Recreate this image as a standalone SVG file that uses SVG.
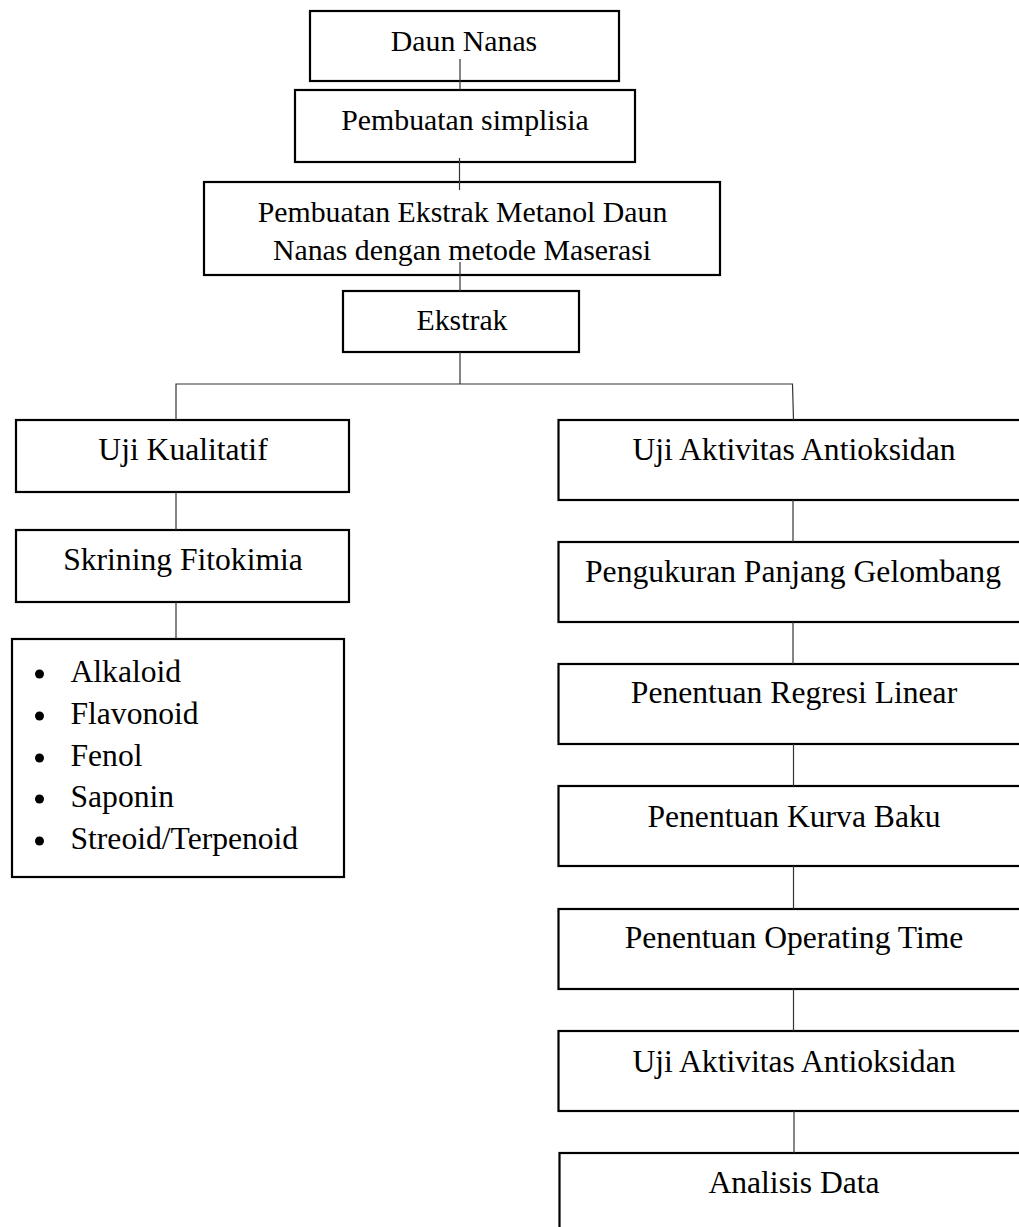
<svg xmlns="http://www.w3.org/2000/svg" width="1019" height="1227" viewBox="0 0 1019 1227">
<style>
.box{fill:#fff;stroke:#000;stroke-width:2.2}
.t{font-family:"Liberation Serif","Times New Roman",serif;font-size:29.8px;fill:#000;text-anchor:middle}
.b{font-size:31.6px}
.l{font-family:"Liberation Serif","Times New Roman",serif;font-size:31.6px;fill:#000}
.c{fill:none;stroke:#333;stroke-width:1.2}
</style>
<rect width="1019" height="1227" fill="#fff"/>
<g id="n1"><rect class="box" x="310" y="11" width="309" height="70"/><text class="t" x="464" y="51">Daun Nanas</text></g>
<g id="n2"><rect class="box" x="295" y="90" width="340" height="72"/><text class="t" x="465" y="130">Pembuatan simplisia</text></g>
<g id="n3"><rect class="box" x="204" y="182" width="516" height="93"/><text class="t" x="462.5" y="222">Pembuatan Ekstrak Metanol Daun</text><text class="t" x="462" y="260">Nanas dengan metode Maserasi</text></g>
<g id="n4"><rect class="box" x="343" y="291" width="236" height="61"/><text class="t" x="462" y="330">Ekstrak</text></g>
<g id="n5"><rect class="box" x="16" y="420" width="333" height="72"/><text class="t b" x="183" y="460">Uji Kualitatif</text></g>
<g id="n6"><rect class="box" x="16" y="530" width="333" height="72"/><text class="t b" x="183" y="570">Skrining Fitokimia</text></g>
<g id="n7"><rect class="box" x="12" y="639" width="332" height="238"/>
<g><circle cx="39.5" cy="674" r="4.5"/><text class="l" x="70.5" y="682">Alkaloid</text>
<circle cx="39.5" cy="716" r="4.5"/><text class="l" x="70.5" y="724">Flavonoid</text>
<circle cx="39.5" cy="758" r="4.5"/><text class="l" x="70.5" y="766">Fenol</text>
<circle cx="39.5" cy="799" r="4.5"/><text class="l" x="70.5" y="807">Saponin</text>
<circle cx="39.5" cy="841" r="4.5"/><text class="l" x="70.5" y="849">Streoid/Terpenoid</text></g></g>
<g id="n8"><rect class="box" x="558.5" y="420" width="470" height="80"/><text class="t b" x="794" y="460">Uji Aktivitas Antioksidan</text></g>
<g id="n9"><rect class="box" x="558.5" y="542" width="470" height="80"/><text class="t b" x="793" y="582">Pengukuran Panjang Gelombang</text></g>
<g id="n10"><rect class="box" x="558.5" y="664" width="470" height="80"/><text class="t b" x="794" y="703">Penentuan Regresi Linear</text></g>
<g id="n11"><rect class="box" x="558.5" y="786" width="470" height="80"/><text class="t b" x="794" y="827">Penentuan Kurva Baku</text></g>
<g id="n12"><rect class="box" x="558.5" y="909" width="470" height="80"/><text class="t b" x="794" y="948">Penentuan Operating Time</text></g>
<g id="n13"><rect class="box" x="558.5" y="1031" width="470" height="80"/><text class="t b" x="794" y="1072">Uji Aktivitas Antioksidan</text></g>
<g id="n14"><rect class="box" x="559.5" y="1153" width="470" height="90"/><text class="t b" x="794" y="1193">Analisis Data</text></g>
<g id="connectors">
<line class="c" x1="460" y1="59" x2="460" y2="90"/>
<line class="c" x1="459.5" y1="158" x2="459.5" y2="190"/>
<line class="c" x1="460" y1="262" x2="460" y2="291"/>
<line class="c" x1="460" y1="352" x2="460" y2="384"/>
<polyline class="c" points="176,420 176,384 792.5,384 793.5,420"/>
<line class="c" x1="176" y1="492" x2="176" y2="530"/>
<line class="c" x1="176" y1="602" x2="176" y2="639"/>
<line class="c" x1="793" y1="500" x2="793" y2="542"/>
<line class="c" x1="793" y1="622" x2="793" y2="664"/>
<line class="c" x1="793.5" y1="744" x2="793.5" y2="786"/>
<line class="c" x1="793.5" y1="866" x2="793.5" y2="909"/>
<line class="c" x1="793.5" y1="989" x2="793.5" y2="1031"/>
<line class="c" x1="794" y1="1111" x2="794" y2="1153"/>
</g>
</svg>
